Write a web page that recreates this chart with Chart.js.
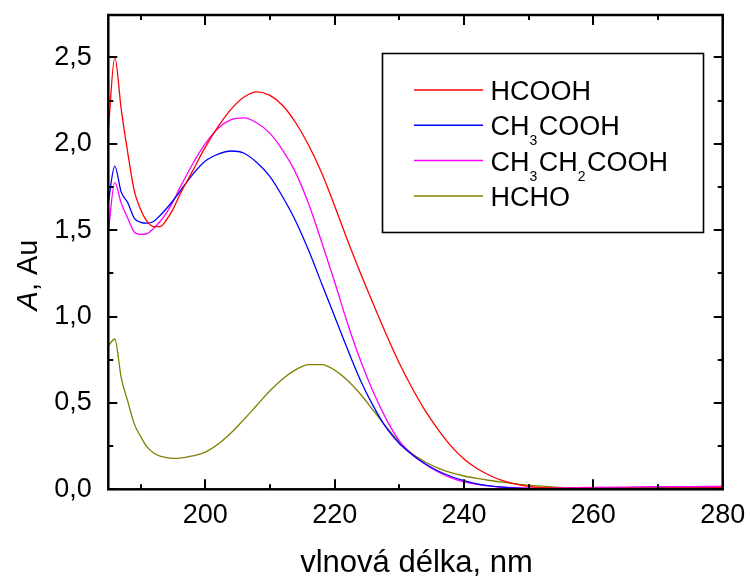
<!DOCTYPE html>
<html>
<head>
<meta charset="utf-8">
<script src="https://cdn.jsdelivr.net/npm/chart.js@4/dist/chart.umd.min.js"></script>
<style>
  html, body { margin: 0; padding: 0; background: #ffffff; }
  #wrap { width: 750px; height: 577px; }
</style>
</head>
<body>
<div id="wrap"><canvas id="c" width="750" height="577"></canvas></div>
<script>
// UV absorption spectra: wavelength (nm) and absorbance (Au) per compound
const wavelengths = [185,186,187,188,189,190,191,192,193,194,195,196,
  198,200,202,204,206,208,210,212,214,216,218,220,222,224,226,228,230,232,234,236,
  238,240,242,244,246,248,250,252,254,256,258,260,265,270,275,280];

const hcooh = [2.08,2.50,2.20,1.95,1.73,1.62,1.55,1.52,1.52,1.56,1.62,1.70,
  1.84,1.98,2.10,2.20,2.27,2.30,2.28,2.22,2.12,1.99,1.83,1.64,1.44,1.25,1.07,0.895,0.73,0.585,0.455,0.345,
  0.25,0.175,0.12,0.08,0.05,0.03,0.017,0.010,0.007,0.005,0.005,0.005,0.006,0.007,0.008,0.009];

const ch3cooh = [1.66,1.87,1.72,1.66,1.57,1.545,1.54,1.55,1.585,1.625,1.67,1.72,
  1.82,1.90,1.94,1.958,1.945,1.89,1.81,1.69,1.55,1.38,1.19,1.00,0.81,0.63,0.48,0.355,0.265,0.20,0.148,0.106,
  0.074,0.05,0.032,0.02,0.012,0.007,0.004,0.003,0.003,0.003,0.003,0.004,0.005,0.006,0.007,0.008];

const ch3ch2cooh = [1.49,1.775,1.655,1.57,1.49,1.475,1.48,1.51,1.55,1.60,1.665,1.74,
  1.88,2.00,2.09,2.14,2.15,2.12,2.06,1.96,1.83,1.65,1.43,1.20,0.96,0.745,0.56,0.405,0.28,0.20,0.145,0.10,
  0.066,0.043,0.028,0.018,0.012,0.009,0.008,0.008,0.008,0.009,0.010,0.011,0.013,0.015,0.016,0.017];

const hcho = [0.83,0.87,0.645,0.51,0.38,0.305,0.245,0.21,0.192,0.183,0.179,0.18,
  0.193,0.215,0.262,0.327,0.405,0.488,0.57,0.64,0.693,0.722,0.722,0.69,0.63,0.55,0.455,0.36,0.272,0.205,0.158,0.123,
  0.096,0.077,0.063,0.051,0.041,0.032,0.024,0.018,0.013,0.010,0.008,0.007,0.006,0.005,0.005,0.005];

// series names; "_x" marks a subscript character
const seriesNames = ['HCOOH', 'CH_3COOH', 'CH_3CH_2COOH', 'HCHO'];
const seriesColors = ['#ff0000', '#0000ff', '#ff00ff', '#808000'];
const seriesValues = [hcooh, ch3cooh, ch3ch2cooh, hcho];

// axis ticks (major ones carry labels)
const xTickValues = [190,200,210,220,230,240,250,260,270,280];
const xLabelValues = [200,220,240,260,280];
const yTickValues = [0,0.25,0.5,0.75,1,1.25,1.5,1.75,2,2.25,2.5];
const yLabelValues = [0,0.5,1,1.5,2,2.5];

const xTitle = 'vlnová délka, nm';
const yTitleItalic = 'A';
const yTitleRest = ', Au';

const FONT = '"Liberation Sans", Arial, sans-serif';

function isMajor(list, v) {
  return list.some(m => Math.abs(m - v) < 1e-9);
}

// draw a label with "_x" subscripts, left aligned at baseline y
function drawRich(ctx, text, x, y, size, subSize, subDrop) {
  let cx = x;
  for (let i = 0; i < text.length; i++) {
    const ch = text[i];
    if (ch === '_' && i + 1 < text.length) {
      const s = text[++i];
      ctx.font = subSize + 'px ' + FONT;
      ctx.fillText(s, cx, y + subDrop);
      cx += ctx.measureText(s).width + 1.5;
    } else {
      ctx.font = size + 'px ' + FONT;
      ctx.fillText(ch, cx, y);
      cx += ctx.measureText(ch).width;
    }
  }
}

// keep the plot area fixed: no extra room for overhanging tick labels
function noOverhang(s) {
  s.paddingLeft = 0; s.paddingRight = 0; s.paddingTop = 0; s.paddingBottom = 0;
}

const framePlugin = {
  id: 'frame',
  afterDraw(chart) {
    const ctx = chart.ctx;
    const a = chart.chartArea;
    const xs = chart.scales.x, ys = chart.scales.y;
    ctx.save();
    ctx.strokeStyle = '#000';
    ctx.lineCap = 'butt';

    // ticks pointing inward on all four sides
    ctx.lineWidth = 2;
    xs.ticks.forEach(t => {
      const px = Math.round(xs.getPixelForValue(t.value));
      const len = isMajor(xLabelValues, t.value) ? 10 : 5;
      ctx.beginPath();
      ctx.moveTo(px, a.bottom); ctx.lineTo(px, a.bottom - len);
      ctx.moveTo(px, a.top); ctx.lineTo(px, a.top + len);
      ctx.stroke();
    });
    ys.ticks.forEach(t => {
      const py = Math.round(ys.getPixelForValue(t.value));
      const len = isMajor(yLabelValues, t.value) ? 9 : 5;
      ctx.beginPath();
      ctx.moveTo(a.left, py); ctx.lineTo(a.left + len, py);
      ctx.moveTo(a.right, py); ctx.lineTo(a.right - len, py);
      ctx.stroke();
    });

    // plot frame
    ctx.lineWidth = 2.5;
    ctx.strokeRect(a.left, a.top, a.right - a.left, a.bottom - a.top);

    // legend box
    const lx0 = 382.5, ly0 = 53.5, lx1 = 703.5, ly1 = 232.5;
    ctx.lineWidth = 1.6;
    ctx.strokeRect(lx0, ly0, lx1 - lx0, ly1 - ly0);
    ctx.textBaseline = 'alphabetic';
    ctx.textAlign = 'left';
    chart.data.datasets.forEach((ds, i) => {
      const ry = 90 + i * 35.3;
      ctx.strokeStyle = ds.borderColor;
      ctx.lineWidth = 1.5;
      ctx.beginPath();
      ctx.moveTo(414, ry); ctx.lineTo(483, ry);
      ctx.stroke();
      ctx.fillStyle = '#000';
      drawRich(ctx, ds.label, 490.5, ry + 10, 27, 14, 10);
    });

    // axis titles
    ctx.fillStyle = '#000';
    ctx.font = '31px ' + FONT;
    ctx.textAlign = 'center';
    ctx.fillText(xTitle, (a.left + a.right) / 2 + 1, 572);

    ctx.translate(37, 275);
    ctx.rotate(-Math.PI / 2);
    ctx.textAlign = 'left';
    ctx.font = 'italic 29px ' + FONT;
    const w1 = ctx.measureText(yTitleItalic).width;
    ctx.font = '29px ' + FONT;
    const w2 = ctx.measureText(yTitleRest).width;
    const start = -(w1 + w2) / 2;
    ctx.font = 'italic 29px ' + FONT;
    ctx.fillText(yTitleItalic, start, 0);
    ctx.font = '29px ' + FONT;
    ctx.fillText(yTitleRest, start + w1, 0);
    ctx.restore();
  }
};

const datasets = seriesNames.map((name, i) => ({
  label: name,
  data: wavelengths.map((w, k) => ({ x: w, y: seriesValues[i][k] })),
  borderColor: seriesColors[i],
  backgroundColor: seriesColors[i],
  borderWidth: 1.3,
  pointRadius: 0,
  cubicInterpolationMode: 'monotone',
  fill: false
}));

new Chart(document.getElementById('c'), {
  type: 'line',
  data: { datasets },
  options: {
    responsive: false,
    animation: false,
    devicePixelRatio: 1,
    layout: { padding: { top: 15, right: 27.3, left: 0, bottom: 0 } },
    plugins: { legend: { display: false }, tooltip: { enabled: false } },
    scales: {
      x: {
        type: 'linear',
        min: 185,
        max: 280,
        grid: { display: false, drawTicks: false },
        border: { display: false },
        afterBuildTicks: s => { s.ticks = xTickValues.map(v => ({ value: v })); },
        afterFit: s => { s.height = 577 - 489.3; noOverhang(s); },
        ticks: {
          padding: 10,
          autoSkip: false,
          maxRotation: 0,
          color: '#000',
          font: { family: FONT, size: 27 },
          callback: v => isMajor(xLabelValues, v) ? String(v) : ''
        }
      },
      y: {
        type: 'linear',
        min: 0,
        max: 2.745,
        grid: { display: false, drawTicks: false },
        border: { display: false },
        afterBuildTicks: s => { s.ticks = yTickValues.map(v => ({ value: v })); },
        afterFit: s => { s.width = 108.3; noOverhang(s); },
        ticks: {
          padding: 16.5,
          autoSkip: false,
          color: '#000',
          font: { family: FONT, size: 27 },
          callback: v => isMajor(yLabelValues, v) ? v.toFixed(1).replace('.', ',') : ''
        }
      }
    }
  },
  plugins: [framePlugin]
});
</script>
</body>
</html>
